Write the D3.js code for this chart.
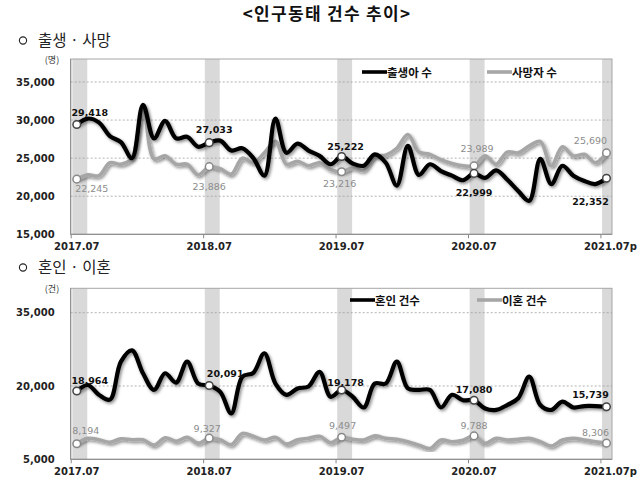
<!DOCTYPE html>
<html><head><meta charset="utf-8">
<script src="https://cdn.jsdelivr.net/npm/d3@7"></script>
<style>
body{margin:0;background:#fff;}
svg{display:block;}
</style></head><body>
<svg id="c" width="640" height="485"></svg>
<script>
// ---- data ----
const months = [];
for (let k = 0; k < 49; k++) { const m = (6 + k) % 12 + 1, yr = 2017 + Math.floor((6 + k) / 12); months.push(yr + "." + String(m).padStart(2, "0")); }
const xTickLabels = ["2017.07", "2018.07", "2019.07", "2020.07", "2021.07p"];
const xTickIdx = [0, 12, 24, 36, 48];

const births = [29418,30200,29700,27900,27100,25000,32000,27600,29900,27600,27800,26500,27033,27300,26000,26300,25000,22700,30200,25700,26900,26000,25300,24200,25222,24300,24000,25500,24400,21400,26600,22800,24200,23300,22700,22100,22999,22400,23400,22200,20700,19400,24900,21600,24000,22700,22000,21600,22352];
const deaths = [22245,22800,22700,24400,24200,25000,31600,24900,25300,24200,24200,22800,23886,23600,22900,25000,24400,25700,27200,24200,24600,24000,24400,23500,23216,23700,23400,25200,25400,26300,28100,25800,25500,24800,24300,24000,23989,25300,24200,25800,25700,26600,27200,24000,26500,25300,25500,24400,25690];
const marriages = [18964,20200,18200,17200,25000,27300,22600,19200,22600,20700,25000,20500,20091,18800,14400,21900,22700,26700,20500,18200,19500,19900,22900,17800,19178,17800,15600,20500,20500,25000,19500,19200,19200,15600,18200,17100,17080,15400,15100,16100,17500,21900,16100,15100,16800,15600,15900,15900,15739];
const divorces = [8194,9300,9000,8500,9200,9000,9000,7900,9400,8700,9500,8300,9327,9000,8000,10300,9700,8950,9500,8100,9000,9300,9700,8400,9497,9100,8950,9800,9300,9100,8600,7900,7200,8950,8600,8900,9788,8270,9290,8950,9090,9290,8610,7720,8950,9290,8950,8610,8306];

const yTicksTop = [15000, 20000, 25000, 30000, 35000];
const yGridTop = [20000, 25000, 30000, 35000];
const yTicksBot = [5000, 20000, 35000];
const yGridBot = [20000, 35000];

const labelIdx = [0, 12, 24, 36, 48];

// ---- layout ----
const svg = d3.select("#c");
const numFont = "'DejaVu Sans', Verdana, sans-serif";
const krFont = "'Noto Sans CJK KR', 'Noto Sans', sans-serif";
const L = 70.7, R = 612;
const x = d3.scaleLinear().domain([-0.55, 48.5]).range([L, R]);

const defs = svg.append("defs");
const f = defs.append("filter").attr("id", "sh").attr("x", "-5%").attr("y", "-20%").attr("width", "110%").attr("height", "140%");
f.append("feDropShadow").attr("dx", 1.5).attr("dy", 1.8).attr("stdDeviation", 1.4).attr("flood-color", "#000").attr("flood-opacity", 0.45);

svg.append("text").attr("x", 327).attr("y", 20).attr("text-anchor", "middle")
  .attr("font-family", krFont).attr("font-weight", "bold").attr("font-size", 17).attr("letter-spacing", 1.3).attr("fill", "#111")
  .text("<인구동태 건수 추이>");

function header(y, t) {
  svg.append("circle").attr("cx", 23).attr("cy", y - 5.5).attr("r", 3.6).attr("fill", "none").attr("stroke", "#222").attr("stroke-width", 1.1);
  svg.append("text").attr("x", 38).attr("y", y).attr("font-family", krFont).attr("font-size", 15.5).attr("fill", "#222").text(t);
}
header(46, "출생 · 사망");
header(273, "혼인 · 이혼");

function chart(cfg) {
  const { top, bottom, y, ticks, grid, s1, s2, unit, leg, lab1, lab2, clipId } = cfg;
  const g = svg.append("g");
  defs.append("clipPath").attr("id", clipId).append("rect").attr("x", L).attr("y", top).attr("width", R - L).attr("height", bottom - top);
  // bands
  g.append("g").attr("clip-path", `url(#${clipId})`).selectAll("rect").data(xTickIdx).join("rect")
    .attr("x", d => x(d - 0.4)).attr("width", d => x(d + 0.95) - x(d - 0.4))
    .attr("y", top).attr("height", bottom - top).attr("fill", "#d9d9d9");
  // grid
  g.selectAll(".gr").data(grid).join("line")
    .attr("x1", L).attr("x2", R).attr("y1", d => y(d)).attr("y2", d => y(d))
    .attr("stroke", "#a0a0a0").attr("stroke-width", 0.8).attr("stroke-dasharray", "2,2");
  // frame
  g.append("rect").attr("x", L).attr("y", top).attr("width", R - L).attr("height", bottom - top)
    .attr("fill", "none").attr("stroke", "#a6a6a6").attr("stroke-width", 1);
  g.append("line").attr("x1", L).attr("x2", R).attr("y1", bottom).attr("y2", bottom).attr("stroke", "#888").attr("stroke-width", 1);
  g.append("line").attr("x1", L).attr("x2", L).attr("y1", top).attr("y2", bottom).attr("stroke", "#888").attr("stroke-width", 1);
  // y axis
  const ya = d3.axisLeft(y).tickValues(ticks).tickFormat(d3.format(",")).tickSize(0).tickPadding(0);
  const yg = g.append("g").attr("transform", `translate(${L - 16},0)`).call(ya);
  yg.select(".domain").remove();
  yg.selectAll("text").attr("font-family", numFont).attr("font-weight", "bold").attr("font-size", 10).attr("fill", "#222");
  // x axis
  const xa = d3.axisBottom(x).tickValues(xTickIdx.map(d => d - 0.55)).tickFormat(() => "").tickSize(4);
  const xg = g.append("g").attr("transform", `translate(0,${bottom})`).call(xa);
  xg.select(".domain").remove();
  xg.selectAll("line").attr("stroke", "#888");
  g.selectAll(".xl").data(xTickIdx).join("text")
    .attr("x", d => x(d) + (d === 48 ? 4 : 0)).attr("y", bottom + 16).attr("text-anchor", "middle")
    .attr("font-family", numFont).attr("font-weight", "bold").attr("font-size", 10).attr("fill", "#222")
    .text((d, i) => xTickLabels[i]);
  // unit
  g.append("text").attr("x", 52).attr("y", top + 4).attr("text-anchor", "middle")
    .attr("font-family", krFont).attr("font-size", 9).attr("fill", "#333").text(unit);
  // lines
  const line = (arr) => d3.line().x((d, i) => x(i)).y(d => y(d)).curve(d3.curveCatmullRom.alpha(0.5))(arr);
  g.append("path").attr("d", line(s2)).attr("fill", "none").attr("stroke", "#a6a6a6").attr("stroke-width", 3.6).attr("filter", "url(#sh)").attr("stroke-linejoin", "round");
  g.append("path").attr("d", line(s1)).attr("fill", "none").attr("stroke", "#000").attr("stroke-width", 4.2).attr("filter", "url(#sh)").attr("stroke-linejoin", "round");
  // markers
  [[s2, "#888"], [s1, "#444"]].forEach(([s, c]) => {
    g.selectAll(null).data(labelIdx).join("circle")
      .attr("cx", d => x(d)).attr("cy", d => y(s[d])).attr("r", 3.8)
      .attr("fill", "#fff").attr("stroke", c).attr("stroke-width", 1.5);
  });
  // labels
  const fmt = d3.format(",");
  [[s1, lab1, "#111", "bold"], [s2, lab2, "#8c8c8c", "normal"]].forEach(([s, off, col, w]) => {
    g.selectAll(null).data(labelIdx).join("text")
      .attr("x", (d, i) => x(d) + off[i][0]).attr("y", (d, i) => y(s[d]) + off[i][1] + 3.5)
      .attr("text-anchor", "middle").attr("font-family", numFont).attr("font-weight", w)
      .attr("font-size", 9.5).attr("fill", col).text(d => fmt(s[d]));
  });
  // legend
  leg.forEach(l => {
    g.append("line").attr("x1", l.x).attr("x2", l.x + 25).attr("y1", l.y).attr("y2", l.y).attr("stroke", l.c).attr("stroke-width", 3.6);
    g.append("text").attr("x", l.x + 25).attr("y", l.y + 4.5).attr("font-family", krFont).attr("font-weight", "bold")
      .attr("font-size", 11.5).attr("fill", "#111").text(l.t);
  });
}

chart({
  top: 59, bottom: 234.3, clipId: "c1",
  y: d3.scaleLinear().domain([15000, 35000]).range([234.3, 82]),
  ticks: yTicksTop, grid: yGridTop, s1: births, s2: deaths, unit: "(명)",
  leg: [{ x: 362, y: 72, c: "#000", t: "출생아 수" }, { x: 487, y: 72, c: "#a6a6a6", t: "사망자 수" }],
  lab1: [[13, -12], [5, -13], [4, -10], [0, 19], [-16, 23]],
  lab2: [[15, 9], [0, 20], [-2, 12], [3, -17], [-16, -12]]
});
chart({
  top: 288.3, bottom: 459.3, clipId: "c2",
  y: d3.scaleLinear().domain([5000, 35000]).range([459.3, 312.7]),
  ticks: yTicksBot, grid: yGridBot, s1: marriages, s2: divorces, unit: "(건)",
  leg: [{ x: 350, y: 300, c: "#000", t: "혼인 건수" }, { x: 477, y: 300, c: "#a6a6a6", t: "이혼 건수" }],
  lab1: [[13, -11], [16, -12], [4, -8], [0, -11], [-16, -12]],
  lab2: [[9, -13], [-2, -10], [1, -12], [0, -10], [-11, -11]]
});
</script>
</body></html>
